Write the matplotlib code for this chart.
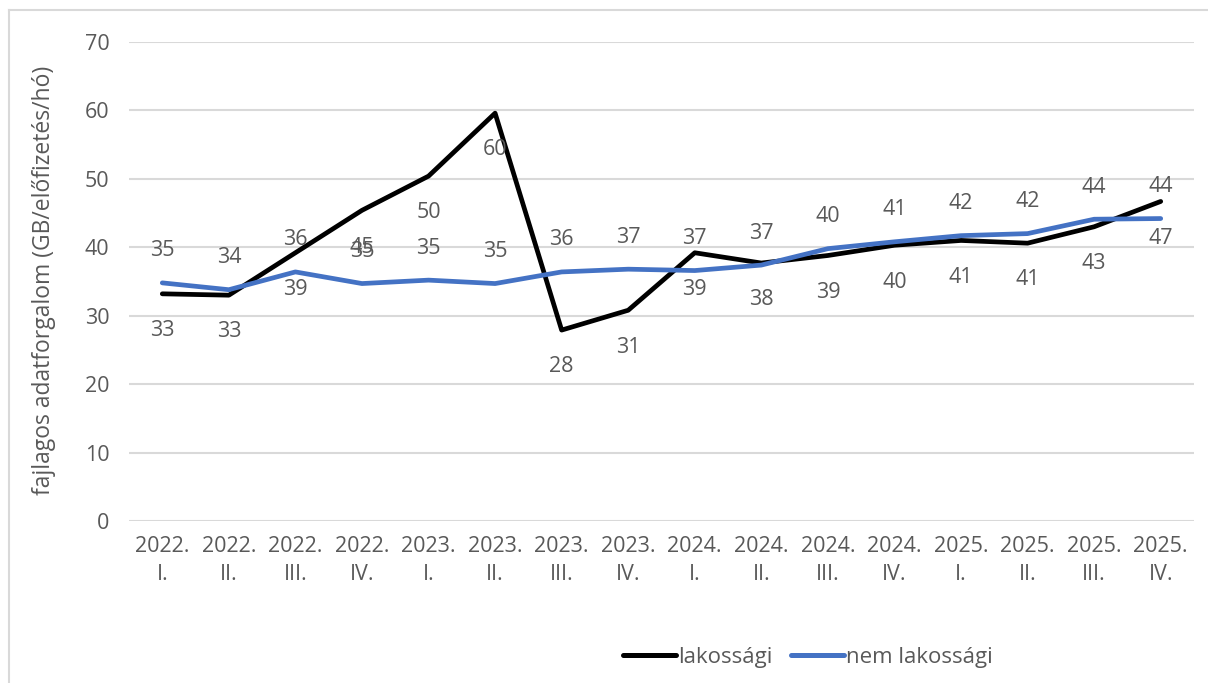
import matplotlib
matplotlib.use("Agg")
import matplotlib.pyplot as plt
from matplotlib.lines import Line2D

plt.rcParams['font.family'] = ['Open Sans', 'DejaVu Sans']

categories = ["2022.\nI.", "2022.\nII.", "2022.\nIII.", "2022.\nIV.",
              "2023.\nI.", "2023.\nII.", "2023.\nIII.", "2023.\nIV.",
              "2024.\nI.", "2024.\nII.", "2024.\nIII.", "2024.\nIV.",
              "2025.\nI.", "2025.\nII.", "2025.\nIII.", "2025.\nIV."]
lakossagi = [33.2, 33.0, 39.2, 45.4, 50.4, 59.6, 27.9, 30.8, 39.2, 37.7, 38.8, 40.3, 41.0, 40.6, 43.0, 46.7]
nem_lakossagi = [34.8, 33.8, 36.4, 34.7, 35.2, 34.7, 36.4, 36.8, 36.6, 37.4, 39.8, 40.8, 41.7, 42.0, 44.1, 44.2]
yticks = [0, 10, 20, 30, 40, 50, 60, 70]
ylabel = "fajlagos adatforgalom (GB/előfizetés/hó)"
series_names = ["lakossági", "nem lakossági"]

W, H = 1208, 683
fig = plt.figure(figsize=(W / 100, H / 100), dpi=100)
ax = fig.add_axes([129 / W, 1 - 521 / H, (1194 - 129) / W, (521 - 42) / H])

text_color = "#595959"
grid_color = "#d9d9d9"
black = "#000000"
blue = "#4472C4"
fs = 15.5

x = list(range(len(categories)))
ax.plot(x, lakossagi, color=black, lw=3.4, solid_joinstyle="round", solid_capstyle="round", zorder=3)
ax.plot(x, nem_lakossagi, color=blue, lw=3.4, solid_joinstyle="round", solid_capstyle="round", zorder=3)

for xi, v in zip(x, lakossagi):
    ax.annotate(f"{v:.0f}", (xi, v), xytext=(0, -26.5), textcoords="offset points",
                ha="center", va="center", fontsize=fs, color=text_color, zorder=4)
for xi, v in zip(x, nem_lakossagi):
    ax.annotate(f"{v:.0f}", (xi, v), xytext=(0, 23), textcoords="offset points",
                ha="center", va="center", fontsize=fs, color=text_color, zorder=4)

ax.set_xlim(-0.5, len(categories) - 0.5)
ax.set_ylim(0, 70)
ax.set_yticks(yticks)
ax.set_yticklabels([str(t) for t in yticks])
ax.set_xticks(x)
ax.set_xticklabels(categories, linespacing=1.4)
ax.tick_params(axis="both", length=0, colors=text_color, labelsize=fs)
ax.tick_params(axis="y", pad=14)
ax.tick_params(axis="x", pad=11)
ax.grid(axis="y", color=grid_color, lw=1.5)
ax.set_axisbelow(True)
for s in ax.spines.values():
    s.set_visible(False)

fig.text(44 / W, 1 - 280 / H, ylabel, rotation=90, ha="center", va="center",
         fontsize=16.5, color=text_color)

handles = [Line2D([], [], color=black, lw=3.6, solid_capstyle="round"),
           Line2D([], [], color=blue, lw=3.6, solid_capstyle="round")]
fig.legend(handles, series_names, loc="center", bbox_to_anchor=(808 / W, 1 - 657 / H),
           ncol=2, frameon=False, fontsize=16, labelcolor=text_color,
           handlelength=2.4, handletextpad=0.1, columnspacing=0.8)

# chart frame
fig.add_artist(Line2D([9 / W, 1], [1 - 10 / H, 1 - 10 / H], color=grid_color, lw=1.5, transform=fig.transFigure))
fig.add_artist(Line2D([9 / W, 9 / W], [0, 1 - 10 / H], color=grid_color, lw=1.5, transform=fig.transFigure))

fig.savefig("out.png", dpi=100, facecolor="white")
